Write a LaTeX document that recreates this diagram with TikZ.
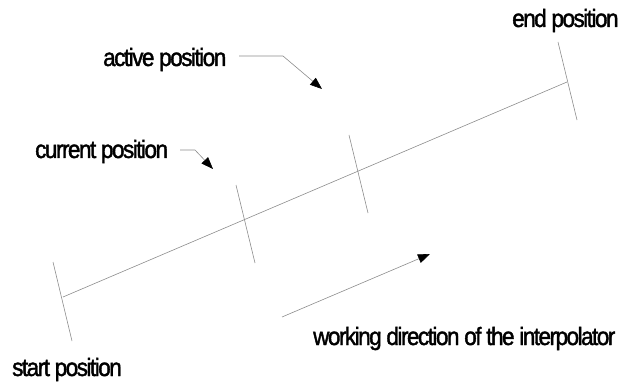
\documentclass[tikz,border=0pt]{standalone}
\usepackage{fontspec}
\setmainfont[LetterSpace=-6,FakeStretch=0.9,FakeBold=1.6]{Liberation Sans}
\usetikzlibrary{arrows.meta}
\begin{document}
\begin{tikzpicture}[x=1pt,y=-1pt,
  thinline/.style={draw=black!45, line width=0.6pt},
  leader/.style={thinline, -{Triangle[length=12pt,width=9pt,fill=black,color=black]}},
  lbl/.style={anchor=base west, inner sep=0pt, font=\fontsize{25}{28}\selectfont}]
\useasboundingbox (0,0) rectangle (619,385);
% main line
\coordinate (S) at (63,297);
\coordinate (E) at (567,82);
\draw[thinline] (S) -- (E);
% ticks
\coordinate (s1) at (53,262); \coordinate (s2) at (72,341);
\coordinate (c1) at (236,185); \coordinate (c2) at (255,263);
\coordinate (a1) at (349,135); \coordinate (a2) at (368,213);
\coordinate (e1) at (558,42); \coordinate (e2) at (577,120);
\draw[thinline] (s1) -- (s2);
\draw[thinline] (c1) -- (c2);
\draw[thinline] (a1) -- (a2);
\draw[thinline] (e1) -- (e2);
% labels
\node[lbl] (start) at (12,376) {start position};
\node[lbl] (cur) at (35,158) {current position};
\node[lbl] (act) at (103,66) {active position};
\node[lbl] (endp) at (512,27) {end position};
\node[lbl] (work) at (313,345) {working direction of the interpolator};
% leaders
\coordinate (cl0) at (180,150); \coordinate (cl1) at (195,150); \coordinate (ct) at (213,169);
\draw[leader] (cl0) -- (cl1) -- (ct);
\coordinate (al0) at (239,56); \coordinate (al1) at (283,56); \coordinate (at) at (322,89);
\draw[leader] (al0) -- (al1) -- (at);
\coordinate (w0) at (282,317); \coordinate (w1) at (430,254);
\draw[leader] (w0) -- (w1);
\end{tikzpicture}
\end{document}
